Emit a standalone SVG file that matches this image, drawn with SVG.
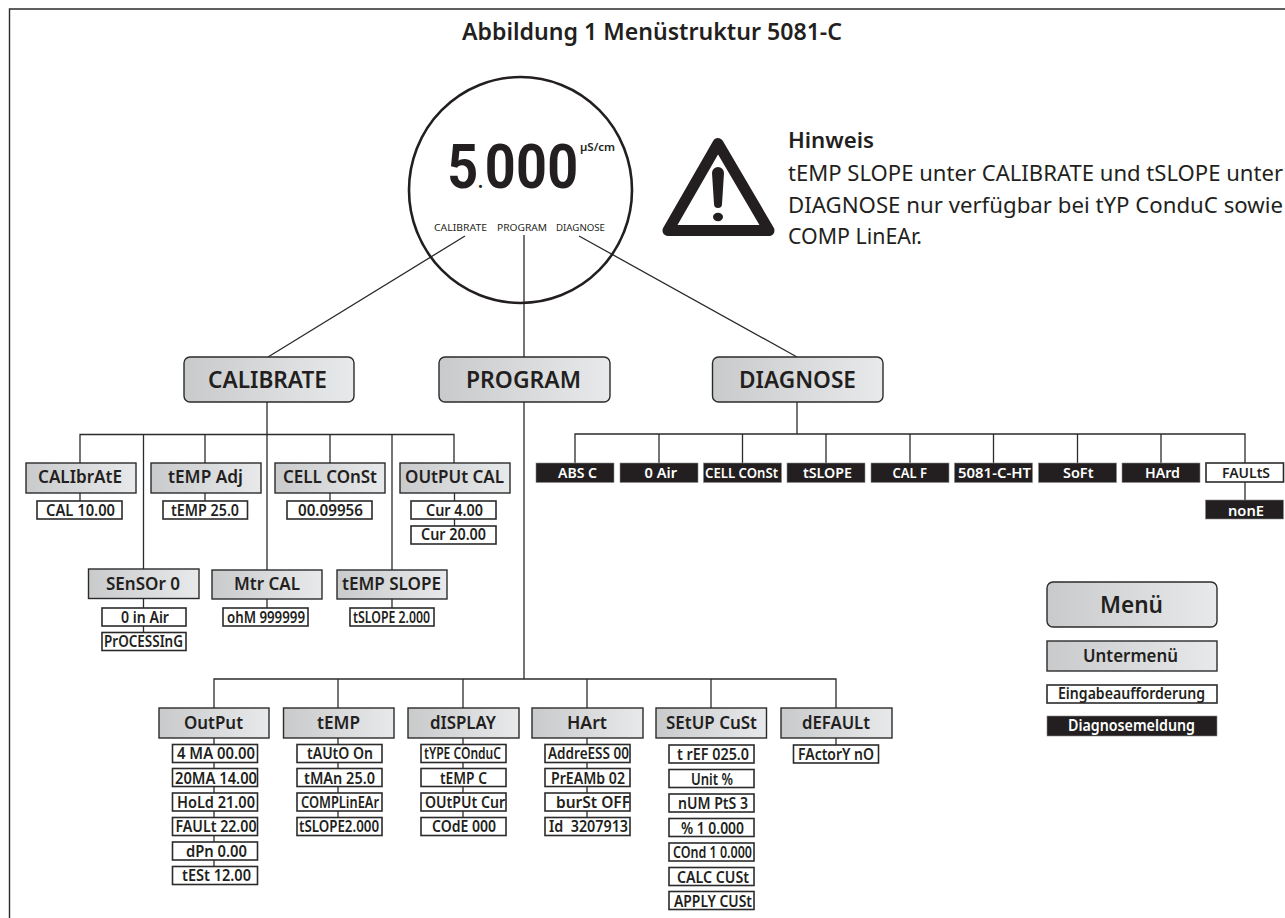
<svg xmlns="http://www.w3.org/2000/svg" width="1285" height="918" viewBox="0 0 1285 918">
<style>
text{font-family:"Noto Sans","Liberation Sans",sans-serif;fill:#231f20;font-weight:600}
.ml{font-size:23.500px}.sl{font-size:17.500px}.vl{font-size:15.500px}.dl{font-size:14.500px;fill:#fff}.dk{font-size:14.500px}
.note{font-size:22px;font-weight:400}
.tiny{font-size:9.500px;font-weight:400}
.m{fill:url(#g);stroke:#2b2b2b;stroke-width:1.400}
.s{fill:url(#g);stroke:#2b2b2b;stroke-width:1.400}
.v{fill:#fff;stroke:#2b2b2b;stroke-width:1.600}
.d{fill:#231f20;stroke:#8a8a8a;stroke-width:.6}
#connectors path{fill:none;stroke:#2b2b2b;stroke-width:1.300}
</style>
<defs><linearGradient id="g" x1="0" y1="0" x2="1" y2="0"><stop offset="0" stop-color="#c9cacc"/><stop offset="1" stop-color="#e8e9ea"/></linearGradient></defs>
<rect width="1285" height="918" fill="#fff"/>
<path d="M1285 9H9.500V918" fill="none" stroke="#2b2b2b" stroke-width="1.400"/>
<text id="title" x="462" y="40" font-size="23" textLength="380" lengthAdjust="spacingAndGlyphs">Abbildung 1 Menüstruktur 5081-C</text>
<g id="connectors">
<path d="M465 236L268 357M579 236L797 357M524 235V679"/>
<path d="M80 463V434.500H454V463M143.500 434.500V569M205 434.500V463M267 402V570M330 434.500V463M392 434.500V570"/>
<path d="M80 493V501M205 493V501M330 493V501M454.500 493V526M143.500 598V632M267 599V608M392 599V608"/>
<path d="M214 708V679H836V708M338 679V708M463 679V708M587 679V708M711 679V708"/>
<path d="M214 738V866M338 738V817M463 738V817M587 738V817M836 738V745"/>
<path d="M797 402V434M575 463V434H1245V463M659 434V463M742.500 434V463M826 434V463M910 434V463M993.500 434V463M1077.500 434V463M1161 434V463M1245 482V500"/>
</g>
<g id="display">
<ellipse cx="520.500" cy="190" rx="111.500" ry="113" fill="none" stroke="#231f20" stroke-width="2.600"/>
<text transform="translate(449 188) scale(.87 1)" x="-2 33 41 77 113" y="0" font-size="62" style="font-family:Roboto,sans-serif;font-weight:700">5<tspan font-size="22">.</tspan>000</text>
<text x="580" y="151" font-size="11" textLength="35" lengthAdjust="spacingAndGlyphs" font-weight="700">µS/cm</text>
<text class="tiny" x="434" y="231" textLength="53" lengthAdjust="spacingAndGlyphs">CALIBRATE</text>
<text class="tiny" x="497" y="231" textLength="50" lengthAdjust="spacingAndGlyphs">PROGRAM</text>
<text class="tiny" x="556" y="231" textLength="49" lengthAdjust="spacingAndGlyphs">DIAGNOSE</text>
</g>
<g id="warning">
<path d="M718 143.500L668 230.500H769Z" fill="none" stroke="#231f20" stroke-width="11" stroke-linejoin="round"/>
<path d="M712 173a6 6 0 0 1 12 0L722 204a4 4 0 0 1-8 0Z" fill="#231f20"/>
<ellipse cx="718" cy="217" rx="5" ry="4.200" fill="#231f20"/>
</g>
<g id="note">
<text x="788" y="148" font-size="22" textLength="86" lengthAdjust="spacingAndGlyphs">Hinweis</text>
<text class="note" x="788" y="181" textLength="495" lengthAdjust="spacingAndGlyphs">tEMP SLOPE unter CALIBRATE und tSLOPE unter</text>
<text class="note" x="788" y="213" textLength="495" lengthAdjust="spacingAndGlyphs">DIAGNOSE nur verfügbar bei tYP ConduC sowie</text>
<text class="note" x="788" y="244" textLength="134" lengthAdjust="spacingAndGlyphs">COMP LinEAr.</text>
</g>
<g id="menu-calibrate"><rect class="m" x="184" y="357" width="170" height="45" rx="6"/><text class="ml" x="208" y="388" textLength="119" lengthAdjust="spacingAndGlyphs">CALIBRATE</text></g>
<g id="menu-program"><rect class="m" x="439" y="357" width="171" height="45" rx="6"/><text class="ml" x="466" y="388" textLength="115" lengthAdjust="spacingAndGlyphs">PROGRAM</text></g>
<g id="menu-diagnose"><rect class="m" x="712.500" y="357" width="170.500" height="45" rx="6"/><text class="ml" x="739" y="388" textLength="117" lengthAdjust="spacingAndGlyphs">DIAGNOSE</text></g>
<g id="sub-calibrate"><rect class="s" x="26" y="463" width="110" height="30"/><text class="sl" x="38" y="483" textLength="84" lengthAdjust="spacingAndGlyphs">CALIbrAtE</text>
<rect class="v" x="37" y="501" width="85" height="18"/><text class="vl" x="46" y="516" textLength="69" lengthAdjust="spacingAndGlyphs">CAL 10.00</text></g>
<g id="sub-tempadj"><rect class="s" x="151" y="463" width="110" height="30"/><text class="sl" x="168" y="483" textLength="75" lengthAdjust="spacingAndGlyphs">tEMP Adj</text>
<rect class="v" x="163" y="501" width="84.500" height="18"/><text class="vl" x="171" y="516" textLength="68" lengthAdjust="spacingAndGlyphs">tEMP 25.0</text></g>
<g id="sub-cell"><rect class="s" x="275" y="463" width="110" height="30"/><text class="sl" x="283" y="483" textLength="94" lengthAdjust="spacingAndGlyphs">CELL COnSt</text>
<rect class="v" x="287" y="501" width="85" height="18"/><text class="vl" x="298" y="516" textLength="65" lengthAdjust="spacingAndGlyphs">00.09956</text></g>
<g id="sub-outputcal"><rect class="s" x="400" y="463" width="110" height="30"/><text class="sl" x="405" y="483" textLength="99" lengthAdjust="spacingAndGlyphs">OUtPUt CAL</text>
<rect class="v" x="411" y="501" width="85" height="18"/><text class="vl" x="426" y="516" textLength="57" lengthAdjust="spacingAndGlyphs">Cur 4.00</text>
<rect class="v" x="411" y="526" width="85" height="18"/><text class="vl" x="421" y="540" textLength="65" lengthAdjust="spacingAndGlyphs">Cur 20.00</text></g>
<g id="sub-sensor"><rect class="s" x="88.500" y="569" width="110.500" height="29.500"/><text class="sl" x="106" y="590" textLength="74" lengthAdjust="spacingAndGlyphs">SEnSOr 0</text>
<rect class="v" x="102" y="608" width="84" height="18"/><text class="vl" x="121" y="623" textLength="48" lengthAdjust="spacingAndGlyphs">0 in Air</text>
<rect class="v" x="102" y="632.500" width="84" height="18"/><text class="vl" x="104" y="647" textLength="79" lengthAdjust="spacingAndGlyphs">PrOCESSInG</text></g>
<g id="sub-mtr"><rect class="s" x="212" y="570" width="110" height="29"/><text class="sl" x="234" y="590" textLength="66" lengthAdjust="spacingAndGlyphs">Mtr CAL</text>
<rect class="v" x="223" y="608" width="85" height="18"/><text class="vl" x="227" y="623" textLength="78" lengthAdjust="spacingAndGlyphs">ohM 999999</text></g>
<g id="sub-tempslope"><rect class="s" x="337" y="570" width="110" height="29"/><text class="sl" x="342" y="590" textLength="99" lengthAdjust="spacingAndGlyphs">tEMP SLOPE</text>
<rect class="v" x="350" y="608" width="84" height="18"/><text class="vl" x="353" y="623" textLength="77" lengthAdjust="spacingAndGlyphs">tSLOPE 2.000</text></g>
<g id="sub-output"><rect class="s" x="159" y="708" width="110" height="30"/><text class="sl" x="184" y="729" textLength="59" lengthAdjust="spacingAndGlyphs">OutPut</text>
<rect class="v" x="172.500" y="744.500" width="85" height="18"/><text class="vl" x="177" y="759" textLength="78" lengthAdjust="spacingAndGlyphs">4 MA 00.00</text>
<rect class="v" x="172.500" y="768.500" width="85" height="18"/><text class="vl" x="175" y="784" textLength="82" lengthAdjust="spacingAndGlyphs">20MA 14.00</text>
<rect class="v" x="172.500" y="793" width="85" height="18"/><text class="vl" x="177" y="808" textLength="78" lengthAdjust="spacingAndGlyphs">HoLd 21.00</text>
<rect class="v" x="172.500" y="817.500" width="85" height="18"/><text class="vl" x="175.500" y="832" textLength="81" lengthAdjust="spacingAndGlyphs">FAULt 22.00</text>
<rect class="v" x="172.500" y="842" width="85" height="18"/><text class="vl" x="186" y="857" textLength="61" lengthAdjust="spacingAndGlyphs">dPn 0.00</text>
<rect class="v" x="172.500" y="866.500" width="85" height="18"/><text class="vl" x="182" y="881" textLength="69" lengthAdjust="spacingAndGlyphs">tESt 12.00</text></g>
<g id="sub-temp"><rect class="s" x="283.500" y="708" width="110.500" height="30"/><text class="sl" x="317" y="729" textLength="43" lengthAdjust="spacingAndGlyphs">tEMP</text>
<rect class="v" x="297" y="744.500" width="85" height="18"/><text class="vl" x="307" y="759" textLength="66" lengthAdjust="spacingAndGlyphs">tAUtO On</text>
<rect class="v" x="297" y="768.500" width="85" height="18"/><text class="vl" x="304" y="784" textLength="71" lengthAdjust="spacingAndGlyphs">tMAn 25.0</text>
<rect class="v" x="297" y="793" width="85" height="18"/><text class="vl" x="301" y="808" textLength="78" lengthAdjust="spacingAndGlyphs">COMPLinEAr</text>
<rect class="v" x="297" y="817.500" width="85" height="18"/><text class="vl" x="299" y="832" textLength="80" lengthAdjust="spacingAndGlyphs">tSLOPE2.000</text></g>
<g id="sub-display"><rect class="s" x="408" y="708" width="111" height="30"/><text class="sl" x="430" y="729" textLength="66" lengthAdjust="spacingAndGlyphs">dISPLAY</text>
<rect class="v" x="421" y="744.500" width="85" height="18"/><text class="vl" x="424" y="759" textLength="77" lengthAdjust="spacingAndGlyphs">tYPE COnduC</text>
<rect class="v" x="421" y="768.500" width="85" height="18"/><text class="vl" x="440" y="784" textLength="47" lengthAdjust="spacingAndGlyphs">tEMP C</text>
<rect class="v" x="421" y="793" width="85" height="18"/><text class="vl" x="425" y="808" textLength="80" lengthAdjust="spacingAndGlyphs">OUtPUt Cur</text>
<rect class="v" x="421" y="817.500" width="85" height="18"/><text class="vl" x="432" y="832" textLength="64" lengthAdjust="spacingAndGlyphs">COdE 000</text></g>
<g id="sub-hart"><rect class="s" x="532" y="708" width="111" height="30"/><text class="sl" x="567" y="729" textLength="40" lengthAdjust="spacingAndGlyphs">HArt</text>
<rect class="v" x="545" y="744.500" width="85" height="18"/><text class="vl" x="548" y="759" textLength="81" lengthAdjust="spacingAndGlyphs">AddreESS 00</text>
<rect class="v" x="545" y="768.500" width="85" height="18"/><text class="vl" x="551" y="784" textLength="74" lengthAdjust="spacingAndGlyphs">PrEAMb 02</text>
<rect class="v" x="545" y="793" width="85" height="18"/><text class="vl" x="556" y="808" textLength="74" lengthAdjust="spacingAndGlyphs">burSt OFF</text>
<rect class="v" x="545" y="817.500" width="85" height="18"/><text class="vl" x="549" y="832" textLength="79" lengthAdjust="spacingAndGlyphs" xml:space="preserve">Id  3207913</text></g>
<g id="sub-setup"><rect class="s" x="656" y="708" width="110.500" height="30"/><text class="sl" x="666" y="729" textLength="91" lengthAdjust="spacingAndGlyphs">SEtUP CuSt</text>
<rect class="v" x="669" y="745" width="85" height="18"/><text class="vl" x="677" y="760" textLength="72" lengthAdjust="spacingAndGlyphs">t rEF 025.0</text>
<rect class="v" x="669" y="769.500" width="85" height="18"/><text class="vl" x="691" y="784.500" textLength="42" lengthAdjust="spacingAndGlyphs">Unit %</text>
<rect class="v" x="669" y="794" width="85" height="18"/><text class="vl" x="678" y="809" textLength="70" lengthAdjust="spacingAndGlyphs">nUM PtS 3</text>
<rect class="v" x="669" y="818.500" width="85" height="18"/><text class="vl" x="681" y="833.500" textLength="63" lengthAdjust="spacingAndGlyphs">% 1 0.000</text>
<rect class="v" x="669" y="843" width="85" height="18"/><text class="vl" x="673" y="858" textLength="79" lengthAdjust="spacingAndGlyphs">COnd 1 0.000</text>
<rect class="v" x="669" y="867.500" width="85" height="18"/><text class="vl" x="677" y="882.500" textLength="72" lengthAdjust="spacingAndGlyphs">CALC CUSt</text>
<rect class="v" x="669" y="891.500" width="85" height="18"/><text class="vl" x="674" y="907" textLength="78" lengthAdjust="spacingAndGlyphs">APPLY CUSt</text></g>
<g id="sub-default"><rect class="s" x="781" y="708" width="111" height="30"/><text class="sl" x="802" y="729" textLength="68" lengthAdjust="spacingAndGlyphs">dEFAULt</text>
<rect class="v" x="793.500" y="745" width="85" height="18"/><text class="vl" x="798" y="760" textLength="76" lengthAdjust="spacingAndGlyphs">FActorY nO</text></g>
<g id="diag-absc"><rect class="d" x="536" y="463" width="78" height="19.500"/><text class="dl" x="558" y="478" textLength="39" lengthAdjust="spacingAndGlyphs">ABS C</text></g>
<g id="diag-0air"><rect class="d" x="620" y="463" width="78" height="19.500"/><text class="dl" x="644.500" y="478" textLength="32.500" lengthAdjust="spacingAndGlyphs">0 Air</text></g>
<g id="diag-cell"><rect class="d" x="703.500" y="463" width="78" height="19.500"/><text class="dl" x="705" y="478" textLength="73" lengthAdjust="spacingAndGlyphs">CELL COnSt</text></g>
<g id="diag-tslope"><rect class="d" x="787" y="463" width="78" height="19.500"/><text class="dl" x="803" y="478" textLength="49" lengthAdjust="spacingAndGlyphs">tSLOPE</text></g>
<g id="diag-calf"><rect class="d" x="871" y="463" width="78" height="19.500"/><text class="dl" x="892.500" y="478" textLength="34.500" lengthAdjust="spacingAndGlyphs">CAL F</text></g>
<g id="diag-5081"><rect class="d" x="954.500" y="463" width="78" height="19.500"/><text class="dl" x="958" y="478" textLength="73" lengthAdjust="spacingAndGlyphs">5081-C-HT</text></g>
<g id="diag-soft"><rect class="d" x="1038.500" y="463" width="78" height="19.500"/><text class="dl" x="1063" y="478" textLength="30.500" lengthAdjust="spacingAndGlyphs">SoFt</text></g>
<g id="diag-hard"><rect class="d" x="1122" y="463" width="78" height="19.500"/><text class="dl" x="1145" y="478" textLength="35" lengthAdjust="spacingAndGlyphs">HArd</text></g>
<g id="diag-faults"><rect class="v" x="1206" y="463" width="77.500" height="19"/><text class="dk" x="1222" y="478" textLength="48" lengthAdjust="spacingAndGlyphs">FAULtS</text></g>
<g id="diag-none"><rect class="d" x="1205.500" y="500" width="78" height="19"/><text class="dl" x="1228" y="516" textLength="36" lengthAdjust="spacingAndGlyphs">nonE</text></g>
<g id="legend-menu"><rect class="m" x="1047" y="582" width="170" height="45" rx="6"/><text x="1100" y="613" font-size="24" textLength="63" lengthAdjust="spacingAndGlyphs">Menü</text></g>
<g id="legend-sub"><rect class="s" x="1047" y="641" width="170" height="30"/><text class="sl" x="1083" y="662" textLength="95" lengthAdjust="spacingAndGlyphs">Untermenü</text></g>
<g id="legend-input"><rect class="v" x="1047" y="685" width="170" height="18"/><text class="vl" x="1058" y="699" textLength="147" lengthAdjust="spacingAndGlyphs">Eingabeaufforderung</text></g>
<g id="legend-diag"><rect class="d" x="1047" y="716" width="170" height="20"/><text class="vl" x="1068" y="731" textLength="127" lengthAdjust="spacingAndGlyphs" style="fill:#fff">Diagnosemeldung</text></g>
</svg>
